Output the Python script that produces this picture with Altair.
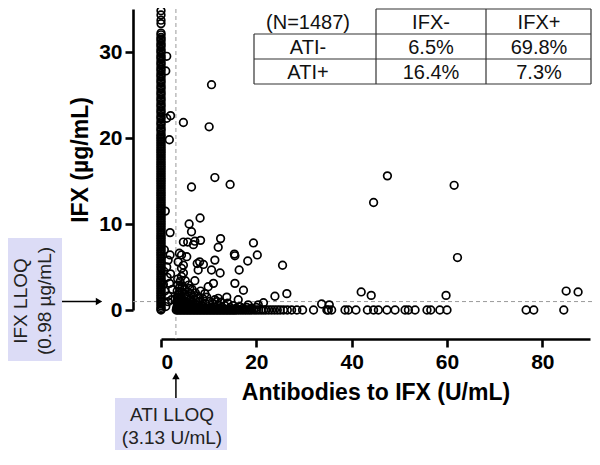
import altair as alt
import pandas as pd

# ---------------- data ----------------
# IFX+ / ATI- : antibodies = 0, IFX level (dense column at x = 0)
col_ifx = [0.0, 0.1, 0.3, 0.5, 0.7, 0.9, 1.1, 1.3, 1.5, 1.7, 1.9, 2.1, 2.3, 2.5, 2.7, 2.9,
           3.1, 3.3, 3.5, 3.7, 3.9, 4.1, 4.3, 4.5, 4.7, 4.9, 5.1, 5.3, 5.5, 5.7, 5.9, 6.1,
           6.3, 6.5, 6.7, 6.9, 7.1, 7.3, 7.5, 7.7, 7.9, 8.1, 8.3, 8.5, 8.7, 8.9, 9.1, 9.3,
           9.5, 9.7, 9.9, 10.1, 10.3, 10.5, 10.7, 10.9, 11.1, 11.3, 11.5, 11.7, 11.9, 12.1,
           12.3, 12.5, 12.7, 12.9, 13.1, 13.3, 13.5, 13.7, 13.9, 14.1, 14.3, 14.5, 14.7,
           14.9, 15.1, 15.3, 15.5, 15.7, 15.9, 16.1, 16.3, 16.5, 16.7, 16.9, 17.1, 17.3,
           17.5, 17.7, 17.9, 18.1, 18.3, 18.5, 18.7, 18.9, 19.1, 19.3, 19.5, 19.7, 19.9,
           20.1, 20.3, 20.5, 20.8, 21.0, 21.2, 21.5, 21.7, 21.9, 22.2, 22.4, 22.6, 22.9,
           23.1, 23.3, 23.6, 23.8, 24.0, 24.3, 24.5, 24.7, 25.0, 25.2, 25.4, 25.7, 25.9,
           26.1, 26.4, 26.6, 26.8, 27.1, 27.3, 27.5, 27.8, 28.0, 28.2, 28.5, 28.7, 28.9,
           29.2, 29.4, 29.6, 29.9, 30.1, 30.3, 30.6, 30.8, 31.0, 31.3, 31.5, 31.7, 32.0,
           32.2, 33.3, 33.7, 34.3, 34.8]

# IFX- / ATI+ : IFX = 0, antibody level (row at y = 0)
row_ati = [3.2, 3.5, 3.8, 4.1, 4.4, 4.7, 5.0, 5.3, 5.6, 5.9, 6.2, 6.5, 6.8, 7.1, 7.4, 7.7,
           8.0, 8.3, 8.6, 8.9, 9.2, 9.5, 9.8, 10.1, 10.4, 10.7, 11.0, 11.3, 11.6, 11.9,
           12.2, 12.5, 12.8, 13.1, 13.4, 13.7, 14.0, 14.3, 14.6, 14.9, 15.2, 15.5, 15.8,
           16.2, 16.6, 17.0, 17.4, 17.8, 18.2, 18.6, 19.0, 19.5, 20.0, 20.5, 21.0, 21.5,
           22.0, 22.6, 23.2, 23.8, 24.4, 25.0, 25.7, 26.5, 27.4, 28.5, 29.7, 32.0, 34.8,
           35.1, 35.8, 38.6, 39.3, 40.9, 43.3, 44.6, 45.6, 47.4, 49.1, 51.2, 51.9, 53.3,
           55.8, 56.6, 58.5, 60.0, 76.6, 78.2, 84.5]

# scattered samples (antibodies, IFX)
scatter_ati = [10.6, 4.7, 10.1, 11.3, 14.5, 6.4, 47.5, 44.6, 61.5, 62.2,
               8.2, 5.9, 6.4, 1.9, 12.5, 4.7, 5.6, 7.1, 8.3, 6.8, 12.0, 19.4, 20.2, 15.4,
               18.2, 16.4, 11.3, 25.5, 3.85, 1.9, 7.6, 8.9, 10.6, 12.4, 15.5, 17.3, 13.8,
               21.5, 23.9, 26.4, 9.9, 7.1, 4.7, 4.7, 4.3, 5.4, 11.0, 11.7, 16.2, 18.3, 20.4,
               42.0, 44.1, 59.8, 85.0, 87.5, 33.7, 35.3, 8.1, 7.8, 6.0, 4.3, 4.3, 3.6, 9.2,
               12.0, 7.8, 15.5,
               1.2, 1.0, 2.0, 1.2, 1.75, 1.5, 1.8, 1.5, 0.8, 1.3, 0.6, 1.0, 1.5, 0.5, 1.2,
               2.2, 2.4, 2.0, 0.7, 0.9,
               3.3, 3.3, 3.4, 3.4, 3.5, 3.5, 3.6, 3.7, 3.8, 3.9, 4.0, 4.0, 4.2, 4.3, 4.4,
               4.5, 4.6, 4.8, 4.9, 5.0, 5.1, 5.2, 5.4, 5.5, 5.6, 5.8, 5.9, 6.1, 6.2, 6.4,
               6.5, 6.7, 6.8, 7.0, 7.2, 7.3, 7.5, 7.7, 7.9, 8.1, 8.3, 8.5, 8.8, 9.0, 9.3,
               9.6, 9.9, 10.2, 10.5, 10.9, 11.3, 11.6, 12.0, 12.5, 12.9, 13.4, 14.0, 14.5,
               15.1, 15.8, 16.5, 17.2, 18.0, 19.0, 20.0,
               3.4, 3.6, 3.9, 4.1, 4.4, 4.6, 4.9, 5.2, 5.5, 5.8, 6.0, 6.3, 6.6, 6.9, 7.2,
               7.6, 8.0, 8.4, 8.9, 9.4, 10.0, 10.7, 11.4, 12.2, 13.0, 3.5, 3.8, 4.2, 4.5,
               4.9, 5.3, 5.7, 6.2, 6.7, 3.4, 3.8, 4.3, 4.8, 5.3, 3.6, 4.1]
scatter_ifx = [26.2, 21.8, 21.3, 15.4, 14.6, 14.3, 15.6, 12.5, 14.5, 6.1,
               10.7, 10.0, 9.1, 9.0, 8.3, 7.9, 7.9, 8.0, 8.1, 7.6, 7.3, 7.8, 6.4, 6.5,
               5.7, 4.65, 5.8, 5.2, 6.6, 6.4, 5.4, 5.3, 4.65, 4.3, 3.1, 2.3, 1.5,
               0.85, 1.6, 1.9, 2.7, 3.4, 5.2, 4.3, 6.4, 6.2, 3.1, 0.97, 1.2, 0.6, 0.6,
               2.1, 1.7, 1.7, 2.2, 2.1, 0.7, 0.6, 5.6, 4.65, 2.5, 4.85, 3.9, 5.6, 1.9,
               1.36, 1.36, 6.3,
               29.5, 27.8, 22.6, 22.3, 19.8, 5.8, 3.1, 0.97, 2.2, 3.8, 4.5, 0.4, 1.6, 3.0,
               5.0, 1.2, 2.4, 4.2, 7.0, 11.5,
               0.3, 0.9, 1.5, 2.2, 2.9, 3.6, 0.6, 1.2, 1.9, 2.6, 3.3, 0.2, 0.8, 1.4, 2.1,
               2.8, 0.5, 1.1, 1.8, 2.4, 3.4, 0.3, 0.9, 1.5, 2.1, 2.9, 0.6, 1.2, 1.9, 0.2,
               2.4, 0.9, 1.5, 0.4, 2.0, 1.1, 0.6, 1.6, 0.3, 1.0, 2.2, 0.5, 1.3, 0.2, 0.8,
               1.5, 0.4, 1.0, 0.3, 0.7, 1.2, 0.3, 0.6, 0.9, 0.3, 0.5, 0.8, 0.3,
               0.5, 0.2, 0.4, 0.2, 0.3, 0.2, 0.3,
               0.1, 0.2, 0.1, 0.2, 0.1, 0.2, 0.1, 0.2, 0.1, 0.2, 0.1, 0.2, 0.1, 0.2, 0.1,
               0.2, 0.1, 0.2, 0.1, 0.2, 0.1, 0.2, 0.1, 0.2, 0.1, 0.5, 0.7, 0.6, 0.7,
               0.5, 0.6, 0.4, 0.5, 0.4, 1.1, 1.0, 0.9, 1.0, 0.8, 1.7, 1.5]

ati_lloq = 3.13
ifx_lloq = 0.98

table_header = ["(N=1487)", "IFX-", "IFX+"]
table_rows = [["ATI-", "6.5%", "69.8%"], ["ATI+", "16.4%", "7.3%"]]

x_title = "Antibodies to IFX (U/mL)"
y_title = "IFX (\u00b5g/mL)"
x_ticks = [0, 20, 40, 60, 80]
y_ticks = [0, 10, 20, 30]
ifx_note = ["IFX LLOQ", "(0.98 \u00b5g/mL)"]
ati_note = ["ATI LLOQ", "(3.13 U/mL)"]

# ---------------- layout (pixels inside the plot frame) ----------------
W, H = 429, 301
FONT = "Liberation Sans"
col_edges = [93, 215, 325, 430]
row_edges = [0, 25, 50, 75]
col_centers = [147, 270, 378]

points = pd.DataFrame({
    "ati": [0.0] * len(col_ifx) + row_ati + scatter_ati,
    "ifx": col_ifx + [0.0] * len(row_ati) + scatter_ifx,
})

xs = alt.Scale(domain=[0, 90], nice=False, zero=False)
ys = alt.Scale(domain=[0, 35], nice=False, zero=False)

axis_common = dict(
    domainColor="black", domainWidth=2.6, tickColor="black", tickWidth=2.6, tickSize=8,
    labelFont=FONT, labelFontSize=21, labelFontWeight="bold", labelColor="black",
    titleFont=FONT, titleFontSize=23, titleFontWeight="bold", titleColor="black",
    grid=False,
)
x_axis = alt.Axis(values=x_ticks, offset=29, title=x_title, labelPadding=4,
                  titlePadding=9, **axis_common)
y_axis = alt.Axis(values=y_ticks, offset=28, title=y_title, labelPadding=3,
                  titlePadding=6, **axis_common)

scatter = alt.Chart(points).mark_point(
    shape="circle", filled=False, color="black", size=58, strokeWidth=1.7, opacity=1
).encode(
    x=alt.X("ati:Q", scale=xs, axis=x_axis),
    y=alt.Y("ifx:Q", scale=ys, axis=y_axis),
)

dash = dict(color="#9a9a9a", strokeWidth=1, strokeDash=[4, 3])
vline = alt.Chart(pd.DataFrame({"ati": [ati_lloq]})).mark_rule(**dash).encode(
    x=alt.X("ati:Q", scale=xs, axis=x_axis), y=alt.value(0), y2=alt.value(H + 29))
hline = alt.Chart(pd.DataFrame({"ifx": [ifx_lloq]})).mark_rule(**dash).encode(
    y=alt.Y("ifx:Q", scale=ys, axis=y_axis), x=alt.value(-28), x2=alt.value(W + 2))

# table grid
segs = []
segs.append((col_edges[1], col_edges[3], row_edges[0], row_edges[0]))
for r in row_edges[1:]:
    segs.append((col_edges[0], col_edges[3], r, r))
segs.append((col_edges[0], col_edges[0], row_edges[1], row_edges[3]))
for c in col_edges[1:]:
    segs.append((c, c, row_edges[0], row_edges[3]))
seg_df = pd.DataFrame(segs, columns=["px", "px2", "py", "py2"])
grid = alt.Chart(seg_df).mark_rule(color="#333333", strokeWidth=1.2).encode(
    x=alt.X("px:Q", scale=None), x2="px2:Q",
    y=alt.Y("py:Q", scale=None), y2="py2:Q")

cells = []
for j, t in enumerate(table_header):
    cells.append((col_centers[j], (row_edges[0] + row_edges[1]) / 2, t))
for i, row in enumerate(table_rows):
    for j, t in enumerate(row):
        cells.append((col_centers[j], (row_edges[i + 1] + row_edges[i + 2]) / 2, t))
cell_df = pd.DataFrame(cells, columns=["px", "py", "t"])
cell_text = alt.Chart(cell_df).mark_text(
    font=FONT, fontSize=20, color="#111111", align="center", baseline="middle", dy=1
).encode(x=alt.X("px:Q", scale=None), y=alt.Y("py:Q", scale=None), text="t:N")

# annotation boxes
box_color = "#dcdcf6"
dummy = pd.DataFrame({"a": [0]})
ifx_box = alt.Chart(dummy).mark_rect(color=box_color).encode(
    x=alt.value(-153), x2=alt.value(-99), y=alt.value(229), y2=alt.value(352))
ati_box = alt.Chart(dummy).mark_rect(color=box_color).encode(
    x=alt.value(-46), x2=alt.value(66), y=alt.value(389), y2=alt.value(441))

ifx_df = pd.DataFrame({"px": [-140, -116], "py": [292, 292], "t": ifx_note})
ifx_text = alt.Chart(ifx_df).mark_text(
    font=FONT, fontSize=19, color="#222222", angle=270, align="center", baseline="middle"
).encode(x=alt.X("px:Q", scale=None), y=alt.Y("py:Q", scale=None), text="t:N")
ati_df = pd.DataFrame({"px": [11, 11], "py": [406, 429], "t": ati_note})
ati_text = alt.Chart(ati_df).mark_text(
    font=FONT, fontSize=19, color="#222222", align="center", baseline="middle"
).encode(x=alt.X("px:Q", scale=None), y=alt.Y("py:Q", scale=None), text="t:N")

# arrows
ifx_df1 = pd.DataFrame({"ifx": [ifx_lloq]})
ifx_shaft = alt.Chart(ifx_df1).mark_rule(color="black", strokeWidth=1.5).encode(
    y=alt.Y("ifx:Q", scale=ys, axis=y_axis), x=alt.value(-99), x2=alt.value(-63))
ifx_head = alt.Chart(ifx_df1).mark_point(
    shape="triangle-right", filled=True, color="black", size=55, opacity=1
).encode(y=alt.Y("ifx:Q", scale=ys, axis=y_axis), x=alt.value(-62))

ati_df1 = pd.DataFrame({"ati": [ati_lloq]})
ati_shaft = alt.Chart(ati_df1).mark_rule(color="black", strokeWidth=1.5).encode(
    x=alt.X("ati:Q", scale=xs, axis=x_axis), y=alt.value(389), y2=alt.value(368))
ati_head = alt.Chart(ati_df1).mark_point(
    shape="triangle-up", filled=True, color="black", size=55, opacity=1
).encode(x=alt.X("ati:Q", scale=xs, axis=x_axis), y=alt.value(367))

chart = alt.layer(
    vline, hline, scatter, grid, cell_text,
    ifx_box, ati_box, ifx_text, ati_text,
    ifx_shaft, ifx_head, ati_shaft, ati_head,
).properties(
    width=W, height=H,
    padding={"left": 153, "top": 1, "right": 2, "bottom": 140},
    autosize=alt.AutoSizeParams(type="none"),
    background="white",
).configure_view(stroke=None)

chart.save("out.html", embed_options={"renderer": "svg", "actions": False})
